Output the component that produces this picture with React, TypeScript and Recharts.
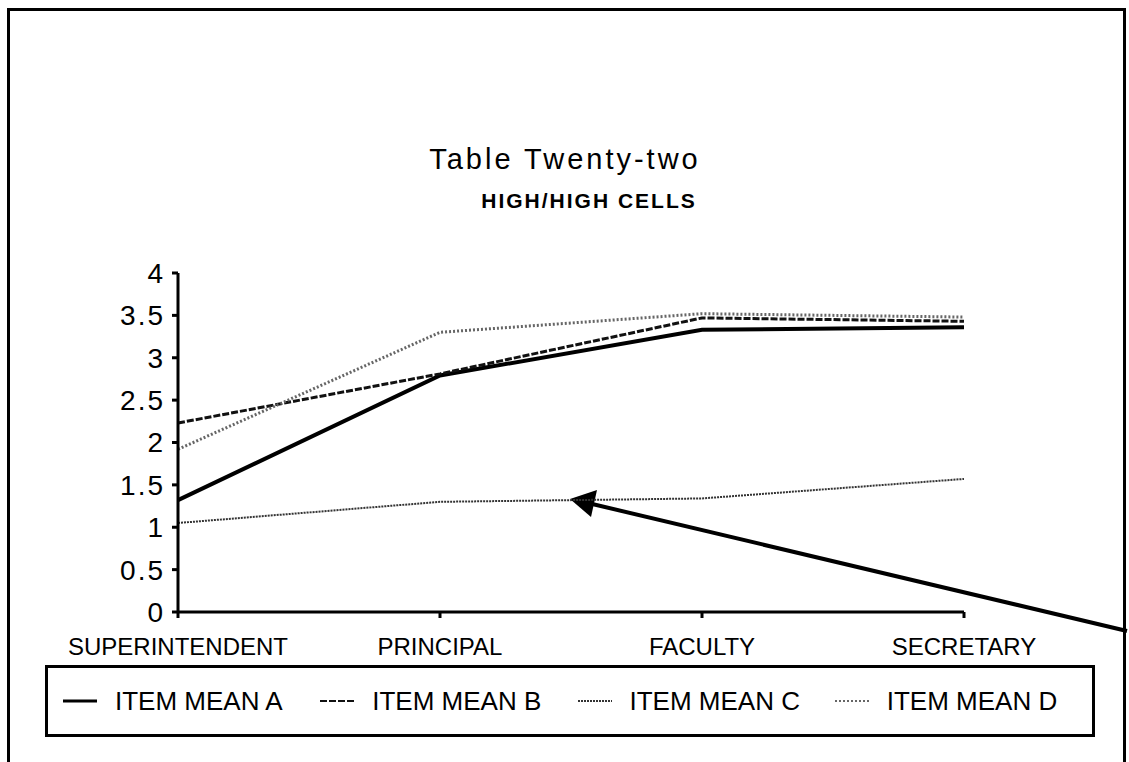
import { LineChart, Line, XAxis, YAxis, Legend, Customized } from "recharts";

const roles = ["SUPERINTENDENT", "PRINCIPAL", "FACULTY", "SECRETARY"];
const meanA = [1.32, 2.79, 3.33, 3.36];
const meanB = [2.23, 2.81, 3.47, 3.43];
const meanC = [1.05, 1.3, 1.34, 1.57];
const meanD = [1.92, 3.3, 3.52, 3.48];
const yTicks = [0, 0.5, 1, 1.5, 2, 2.5, 3, 3.5, 4];

const data = roles.map((role, i) => ({
  role,
  a: meanA[i],
  b: meanB[i],
  c: meanC[i],
  d: meanD[i],
}));

const font = "'Liberation Sans', Arial, Helvetica, sans-serif";

const series = [
  { key: "a", name: "ITEM MEAN A", stroke: "#000", width: 4, dash: undefined },
  { key: "b", name: "ITEM MEAN B", stroke: "#111", width: 3, dash: "7 2" },
  { key: "c", name: "ITEM MEAN C", stroke: "#333", width: 2, dash: "2 1" },
  { key: "d", name: "ITEM MEAN D", stroke: "#666", width: 3, dash: "2 2" },
];

function LegendBox() {
  return (
    <div
      style={{
        boxSizing: "border-box",
        width: 1050,
        height: 72,
        border: "3px solid #000",
        display: "flex",
        alignItems: "center",
        paddingLeft: 15,
        fontFamily: font,
        fontSize: 26,
        color: "#000",
      }}
    >
      {series.map((s) => (
        <div key={s.key} style={{ width: 262, display: "flex", alignItems: "center" }}>
          <svg width={34} height={10} style={{ marginRight: 18 }}>
            <line x1={0} y1={5} x2={34} y2={5} stroke={s.stroke} strokeWidth={s.key === "a" ? 3 : 2} strokeDasharray={s.dash} />
          </svg>
          <span>{s.name}</span>
        </div>
      ))}
    </div>
  );
}

function Titles() {
  return (
    <g fontFamily={font} fill="#000">
      <text x={565} y={169} textAnchor="middle" fontSize={29} letterSpacing={3}>
        Table  Twenty-two
      </text>
      <text x={589} y={208} textAnchor="middle" fontSize={21} fontWeight="bold" letterSpacing={2}>
        HIGH/HIGH  CELLS
      </text>
      <line x1={1127} y1={631} x2={588} y2={503} stroke="#000" strokeWidth={4} />
      <polygon points="570,499 597,490 591,517" fill="#000" />
    </g>
  );
}

export default function App() {
  return (
    <div style={{ position: "absolute", left: 0, top: 0, width: 1129, height: 762, background: "#fff" }}>
      <div
        style={{
          position: "absolute",
          left: 7,
          top: 8,
          width: 1119,
          height: 754,
          boxSizing: "border-box",
          borderTop: "3px solid #000",
          borderLeft: "3px solid #000",
          borderRight: "3px solid #000",
        }}
      />
      <LineChart
        width={1129}
        height={762}
        data={data}
        margin={{ top: 273, right: 165, bottom: 25, left: 0 }}
        style={{ position: "absolute", left: 0, top: 0 }}
      >
        <XAxis
          dataKey="role"
          height={53}
          stroke="#000"
          strokeWidth={3}
          tickSize={6}
          tickMargin={20}
          tick={{ fontSize: 24, fill: "#000", fontFamily: font }}
        />
        <YAxis
          width={178}
          domain={[0, 4]}
          ticks={yTicks}
          stroke="#000"
          strokeWidth={3}
          tickSize={6}
          tickMargin={7}
          tick={{ fontSize: 28, fill: "#000", fontFamily: font, letterSpacing: 2 }}
        />
        {series.map((s) => (
          <Line
            key={s.key}
            dataKey={s.key}
            name={s.name}
            type="linear"
            stroke={s.stroke}
            strokeWidth={s.width}
            strokeDasharray={s.dash}
            dot={false}
            activeDot={false}
            isAnimationActive={false}
          />
        ))}
        <Legend
          verticalAlign="bottom"
          content={() => <LegendBox />}
          wrapperStyle={{ left: 45, width: 1050 }}
        />
        <Customized component={Titles} />
      </LineChart>
    </div>
  );
}
